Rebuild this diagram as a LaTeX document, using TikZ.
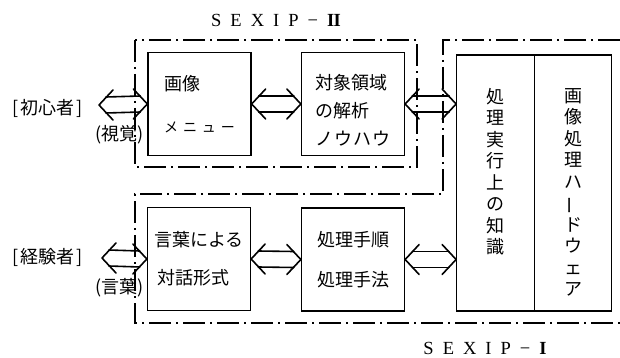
\documentclass[tikz,border=0pt]{standalone}
\usepackage{fontspec}
\setmainfont{Liberation Serif}
\newfontfamily\jp{Noto Sans CJK JP}
\usetikzlibrary{calc}
\tikzstyle{box}=[draw,line width=1.3pt,minimum width=103pt,minimum height=103pt,inner sep=0pt,align=left,font=\jp\fontsize{18}{18}\selectfont]
\tikzstyle{boxtext}=[inner sep=0pt,align=left,font=\jp\fontsize{18}{18}\selectfont]
\tikzstyle{tallbox}=[draw,line width=1.3pt,minimum width=77.5pt,minimum height=256pt,inner sep=0pt]
\tikzstyle{vtext}=[align=center,anchor=north,inner sep=0pt,font=\jp\fontsize{18}{21.5}\selectfont]
\tikzstyle{tag}=[inner sep=0pt,font=\jp\fontsize{18}{18}\selectfont]
\tikzstyle{title}=[inner sep=0pt,font=\fontsize{18.5}{18.5}\selectfont]
\tikzstyle{sysline}=[line width=1.2pt,dash pattern=on 22pt off 5pt on 2pt off 5pt]
\tikzstyle{fatarrow}=[draw,line width=1.6pt,line cap=round,line join=round]
\newcommand{\sxgap}{\hspace{9pt}}

\begin{document}
\begin{tikzpicture}[x=1pt,y=-1pt]
    \useasboundingbox (0,0) rectangle (620,358);

    % system borders
    \draw[sysline] (135,40) rectangle (417,167);
    \draw[sysline] (620,40) -- (443,40) -- (443,194) -- (135,194) -- (135,323) -- (620,323);

    \node[title] (sys2) at (276,20) {S\sxgap E\sxgap X\sxgap I\sxgap P\sxgap −\sxgap\textbf{I\kern-0.6pt I}};
    \node[title] (sys1) at (485,348) {S\sxgap E\sxgap X\sxgap I\sxgap P\sxgap −\sxgap\textbf{I}};

    % boxes
    \node[box] (menu) at (199.5,104) {画像\\[24pt]{\fontsize{14}{14}\selectfont メ\hspace{5pt}ニ\hspace{5pt}ュ\hspace{5pt}ー}};
    \node[box] (domain) at (353,104) {};
    \node[boxtext] (domaintext) at (353,110) {対象領域\\[10pt]の解析\\[10pt]ノ\hspace{1pt}ウ\hspace{1pt}ハ\hspace{1pt}ウ};
    \node[box] (dialog) at (199,259) {言葉による\\[20pt]\,対話形式};
    \node[box] (proc) at (353,259.5) {処理手順\\[22pt]処理手法};

    \node[tallbox] (know) at (495.5,183) {};
    \node[tallbox] (hw) at (573,183) {};
    \node[vtext] (knowtext) at (495.5,88) {処\\理\\実\\行\\上\\の\\知\\識};
    \node[vtext] (hwtext) at (573,88) {画\\像\\処\\理\\ハ\\\rotatebox[origin=c]{90}{ー}\\ド\\ウ\\ェ\\ア};

    % users
    \node[tag] (novice) at (48,108) {[\hspace{2pt}初心者\hspace{2pt}]};
    \node[tag,anchor=east] (vision) at (144,135) {(視覚)};
    \node[tag] (expert) at (48,257) {[\hspace{2pt}経験者\hspace{2pt}]};
    \node[tag,anchor=east] (words) at (144,288) {(言葉)};

    \coordinate (novicetip) at (99,105);
    \coordinate (experttip) at (102,258);
    \coordinate (upin) at (know.west |- domain.east);
    \coordinate (lowin) at (know.west |- proc.east);

    \foreach \source/\dest in {novicetip/menu.west, menu.east/domain.west, domain.east/upin,
                               experttip/dialog.west, dialog.east/proc.west, proc.east/lowin}
    {
        \path[fatarrow] ($(\source)+(14,-15)$) -- (\source) -- ($(\source)+(14,15)$);
        \path[fatarrow] ($(\dest)+(-14,-15)$) -- (\dest) -- ($(\dest)+(-14,15)$);
        \path[fatarrow] ($(\source)+(7,-8)$) -- ($(\dest)+(-7,-8)$);
        \path[fatarrow] ($(\source)+(7,8)$) -- ($(\dest)+(-7,8)$);
    }
\end{tikzpicture}
\end{document}
